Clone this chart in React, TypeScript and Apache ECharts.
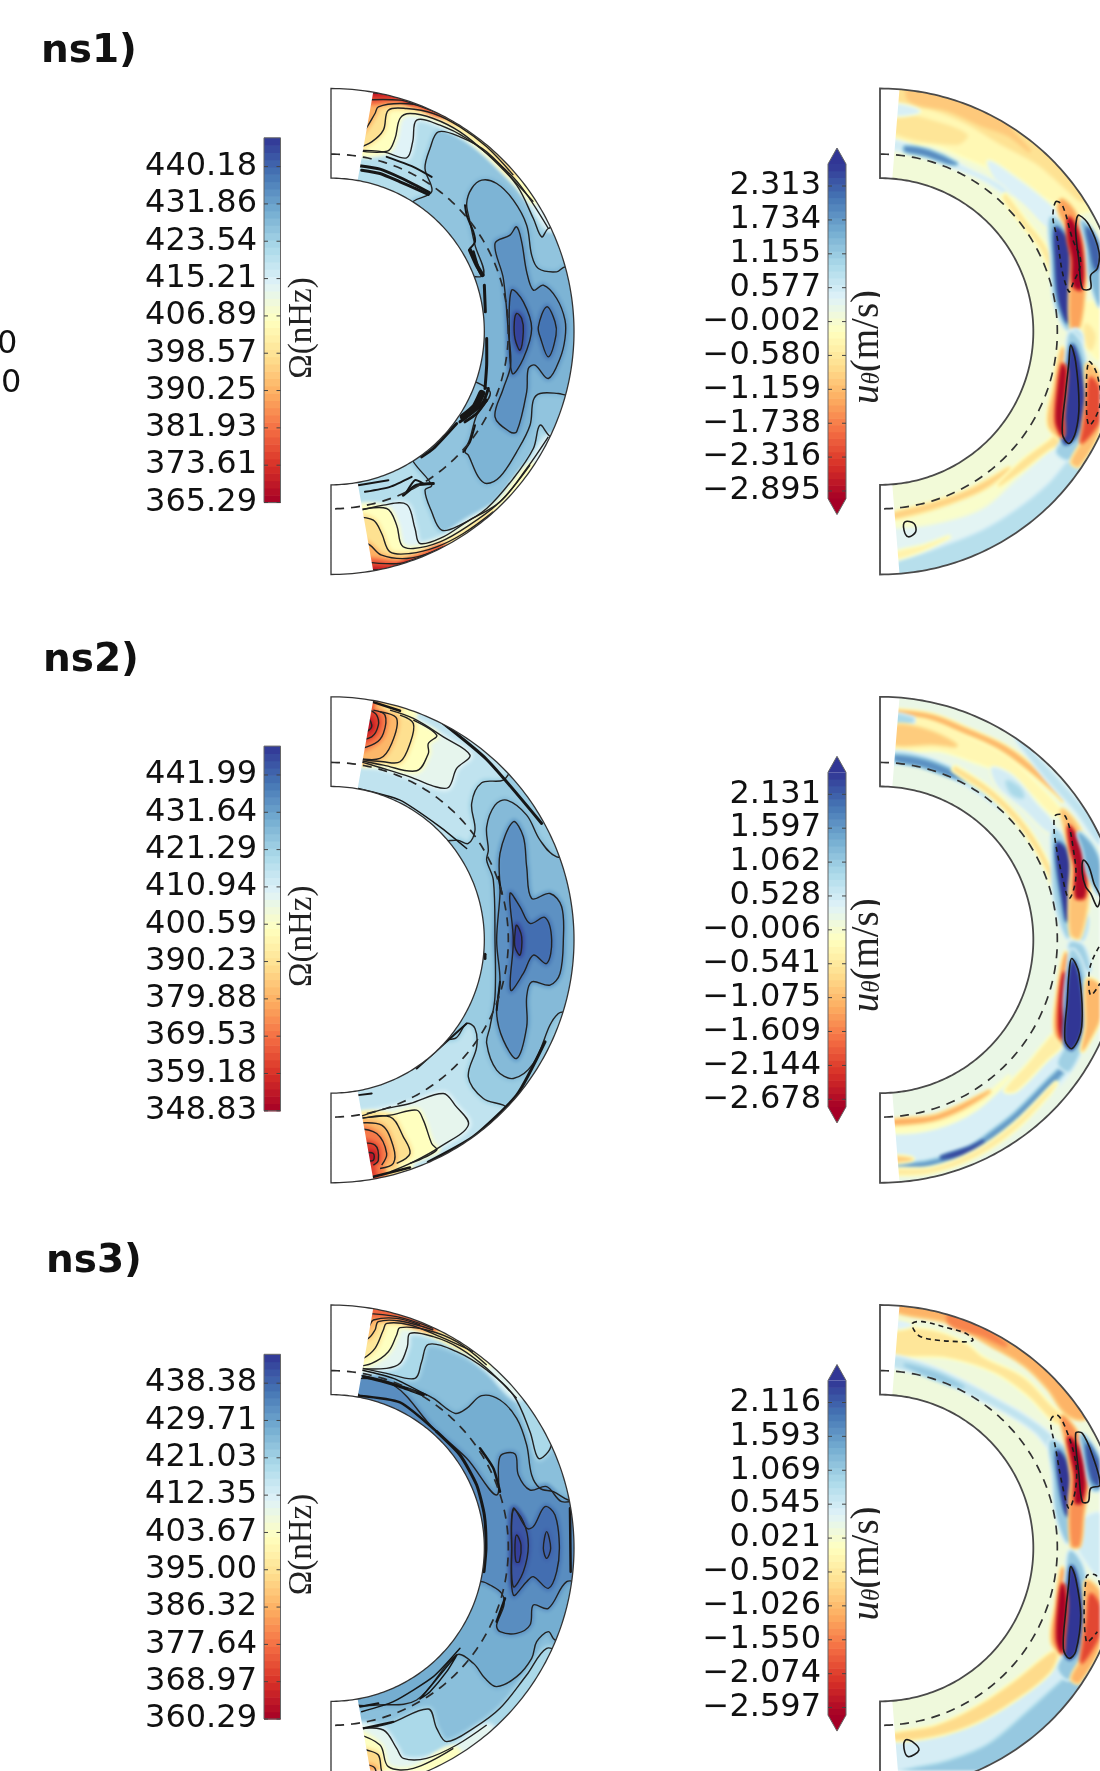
import React, { useEffect, useRef } from "react";
import * as echarts from "echarts";

// Each field is given as nested contour regions.
// A region is [value, surrounding value, closes along the outer rim (1/0), x,y vertices]
// in a reading frame of 900 x 1560 units (axis centre x=93, y=779).
type Region = [number, number, number, number[]];
type Scribble = [number, number[]];
type Line = [number, number, number[]]; // dashed(1/0), closed(1/0), vertices

const titles = ["ns1)", "ns2)", "ns3)"];

const ns1OmegaTicks = [365.29, 373.61, 381.93, 390.25, 398.57, 406.89, 415.21, 423.54, 431.86, 440.18];
const ns2OmegaTicks = [348.83, 359.18, 369.53, 379.88, 390.23, 400.59, 410.94, 421.29, 431.64, 441.99];
const ns3OmegaTicks = [360.29, 368.97, 377.64, 386.32, 395.0, 403.67, 412.35, 421.03, 429.71, 438.38];
const ns1UTicks = [-2.895, -2.316, -1.738, -1.159, -0.58, -0.002, 0.577, 1.155, 1.734, 2.313];
const ns2UTicks = [-2.678, -2.144, -1.609, -1.075, -0.541, -0.006, 0.528, 1.062, 1.597, 2.131];
const ns3UTicks = [-2.597, -2.074, -1.55, -1.026, -0.502, 0.021, 0.545, 1.069, 1.593, 2.116];

const ns1OmegaRegions: Region[] = [
  [426, 420.6, 0, [375,290,390,230,415,180,480,195,560,240,650,340,700,440,725,495,745,470,790,460,865,779,790,1098,752,1095,720,1060,700,1130,640,1220,560,1310,480,1360,425,1375,395,1320,375,1255,395,1240,330,1150,250,779,330,400,395,360]],
  [429, 426, 0, [500,395,515,350,545,325,590,335,640,385,680,460,695,550,715,590,770,600,795,585,850,590,880,779,850,970,800,970,775,965,720,965,700,985,690,1060,650,1140,600,1215,560,1235,535,1215,505,1150,495,1140,510,1100,530,1030,570,960,480,900,440,779,480,620,550,610,525,520,510,450]],
  [434, 429, 0, [585,515,630,490,650,465,665,510,680,600,700,655,730,640,770,680,795,745,795,800,780,860,745,920,705,880,685,890,680,960,650,1080,630,1080,585,1035,610,950,632,880,625,780,610,620]],
  [438.5, 434, 0, [635,655,670,690,695,770,670,860,637,905,628,780]],
  [438.5, 434, 0, [740,705,765,750,768,790,745,855,722,800,715,765]],
  [445, 438.5, 0, [650,725,665,740,670,780,660,835,645,800,643,750]],
  [414, 420.6, 1, [165,235,250,240,320,258,338,210,350,145,420,160,500,200,590,270,660,340,745,470]],
  [406, 414, 1, [165,235,262,238,285,200,300,140,330,125,400,140,480,180,560,245,650,335,700,390]],
  [398, 406, 1, [165,232,215,210,250,175,265,115,320,110,400,125,480,165,560,225,640,310]],
  [390, 398, 1, [165,190,190,180,225,125,235,105,300,95,380,105,470,150]],
  [378, 390, 1, [180,85,300,85,350,100,430,130]],
  [369, 378, 1, [190,62,290,70,340,90]],
  [414, 420.6, 1, [165,1320,250,1300,320,1298,345,1370,360,1415,430,1395,500,1350,600,1290,680,1190,745,1095]],
  [406, 414, 1, [165,1317,260,1310,290,1360,305,1420,340,1430,420,1410,500,1365,600,1290,690,1180]],
  [398, 406, 1, [165,1335,220,1345,245,1385,270,1440,330,1445,410,1425,490,1385,580,1320]],
  [390, 398, 1, [165,1395,210,1420,245,1450,320,1460,400,1440]],
  [378, 390, 1, [190,1470,300,1475,360,1455,430,1425]],
  [369, 378, 1, [195,1495,280,1490,340,1470]],
];
const ns1OmegaScribbles: Scribble[] = [
  [3, [178,282,240,292,300,317,350,342,388,362]],
  [3, [185,295,240,305,300,330,350,352,385,368]],
  [2, [260,255,340,285,395,315]],
  [2, [495,400,500,430,520,480,525,510,510,530]],
  [4, [510,535,530,580,548,610]],
  [3, [520,540,535,590,545,610]],
  [3, [553,640,556,720]],
  [3, [560,800,560,880,555,950]],
  [3, [565,950,550,990,520,1020,480,1050]],
  [7, [545,965,525,1005,490,1035]],
  [3, [560,985,530,1025,495,1050]],
  [2, [525,1060,510,1110,490,1140]],
  [3, [470,1055,400,1130,365,1155]],
  [2, [175,1240,265,1225]],
  [2, [195,1260,270,1245,335,1215]],
  [3, [310,1270,350,1240,400,1235]],
  [2, [320,1260,345,1225,370,1235]],
];

const ns2OmegaRegions: Region[] = [
  [422.7, 415.6, 0, [610,300,545,308,515,370,525,450,505,490,470,480,400,500,360,779,400,1060,465,1075,500,1030,525,1045,530,1100,505,1190,550,1255,610,1275,650,1300,870,779,650,258]],
  [426.7, 422.7, 0, [770,530,720,480,680,405,620,360,585,375,560,440,565,510,560,540,580,600,585,779,585,950,570,1040,560,1090,590,1170,640,1195,700,1150,775,1000,870,1000,870,530]],
  [434.8, 426.7, 0, [600,520,640,425,670,470,680,560,695,655,750,640,785,680,790,780,780,880,750,915,695,905,680,950,680,1040,650,1135,610,1080,590,1000,600,900,590,780,600,640]],
  [441, 434.8, 0, [630,640,660,680,690,730,735,712,755,780,740,850,700,825,670,880,632,930,640,780]],
  [449, 441, 0, [650,735,665,770,660,825,645,800,645,760]],
  [407.5, 415.6, 1, [165,240,240,262,330,290,400,318,445,322,470,265,510,225,430,170,340,115,270,90]],
  [399.4, 407.5, 1, [165,238,250,255,350,272,385,220,385,190,410,165,340,120]],
  [389.3, 399.4, 1, [165,235,250,245,300,245,330,190,340,130,300,105]],
  [381, 389.3, 1, [165,232,240,235,275,190,290,115,240,95]],
  [371, 381, 1, [165,210,225,190,250,160,255,105,220,90]],
  [361, 371, 1, [165,180,215,170,235,135,230,105,210,90]],
  [353, 361, 0, [195,155,215,140,205,115,190,125]],
  [407.5, 415.6, 1, [165,1315,240,1290,330,1270,430,1240,465,1275,505,1335,420,1400,340,1445,270,1475]],
  [399.4, 407.5, 1, [165,1315,270,1305,350,1290,370,1320,395,1390,410,1410,330,1450]],
  [389.3, 399.4, 1, [165,1320,270,1310,310,1370,330,1420,290,1450]],
  [381, 389.3, 1, [165,1330,245,1335,280,1400,280,1450,240,1465]],
  [371, 381, 1, [165,1345,230,1360,260,1420,245,1455]],
  [361, 371, 1, [165,1390,225,1395,235,1440,220,1455]],
  [353, 361, 0, [195,1420,220,1420,220,1440,200,1440]],
];
const ns2OmegaScribbles: Scribble[] = [
  [2.5, [300,92,220,66]],
  [3, [420,122,560,238,725,430]],
  [1.5, [175,325,300,360,420,440,500,505]],
  [2, [175,1245,215,1240]],
  [3, [385,1446,520,1370,650,1245,735,1085]],
  [2.5, [220,1490,330,1462]],
  [2, [350,1165,500,1030]],
  [3, [555,822,555,835]],
  [2, [595,590,605,640]],
  [2, [600,905,590,990]],
];

const ns3OmegaRegions: Region[] = [
  [428, 424.7, 0, [840,635,805,635,760,610,720,600,695,560,680,470,650,390,600,335,545,322,500,360,465,375,400,330,370,315,280,285,185,262,150,270,150,330,300,500,400,780,300,1050,150,1230,170,1250,230,1250,350,1235,470,1100,520,1125,555,1170,590,1195,650,1165,695,1110,710,1060,745,1030,765,1055,830,1060,870,779]],
  [433, 428, 0, [600,505,645,497,655,560,690,605,740,595,785,640,860,640,860,880,800,880,745,960,700,950,690,1010,650,1035,600,1030,590,1010,612,950,605,915,570,890,545,880,430,880,430,690,430,600,300,440,150,290,165,270,280,290,400,420,500,510,590,620]],
  [437.5, 433, 0, [640,660,680,720,700,715,735,655,765,680,778,770,770,850,745,900,700,865,680,880,640,920,635,780]],
  [440.9, 437.5, 0, [640,665,670,700,685,770,670,850,640,895,635,780]],
  [444, 440.9, 0, [650,740,663,770,658,820,648,820,645,770]],
  [439.5, 437.5, 0, [740,730,752,780,740,810,730,780]],
  [419.6, 424.7, 1, [165,235,260,255,345,270,365,220,385,168,470,190,560,245,640,320,690,430,715,510,745,490,760,450]],
  [419.6, 424.7, 1, [165,1325,270,1305,385,1262,410,1320,440,1360,520,1320,600,1260,680,1160,740,1080,790,1100]],
  [410, 419.6, 1, [165,240,260,240,300,225,322,175,330,135,400,145,480,180,560,240,650,330]],
  [403, 410, 1, [165,235,215,225,265,190,290,140,300,118,380,125,470,160,560,230]],
  [396, 403, 1, [165,215,190,210,225,180,250,125,260,105,330,110,420,145,520,190]],
  [390, 396, 1, [165,160,205,150,225,125,235,100,300,98,400,125]],
  [384, 390, 1, [170,120,205,115,220,95,290,90,360,110]],
  [376, 384, 1, [190,75,290,85,400,120]],
  [410, 419.6, 1, [165,1320,250,1325,290,1380,310,1410,380,1410,470,1370,560,1310]],
  [403, 410, 1, [165,1335,240,1370,265,1435,340,1440,460,1380]],
  [393, 403, 1, [165,1375,200,1385,235,1400,245,1449,260,1480]],
  [385, 393, 1, [165,1425,205,1430,225,1440,230,1480]],
];
const ns3OmegaScribbles: Scribble[] = [
  [3, [190,265,250,280,300,295,370,320]],
  [1.5, [185,245,280,270,380,320]],
  [2.5, [175,322,300,342,410,430]],
  [3, [410,430,480,500,530,590,553,680,558,780,552,850]],
  [2.5, [540,480,580,540,600,610]],
  [2.5, [590,1000,615,930]],
  [2.5, [810,660,812,850]],
  [1.5, [360,1232,420,1160,470,1100,440,1150,390,1210,360,1232]],
  [2, [180,1255,235,1245]],
  [1.5, [185,1270,280,1240,400,1165,480,1080]],
  [2, [190,1320,280,1300]],
];

const ns1URegions: Region[] = [
  [-0.3, 0.08, 1, [120,210,250,215,350,255,450,300,560,360,640,400,700,420]],
  [-0.7, -0.3, 1, [125,85,250,110,350,150,450,210,560,270,610,310,660,355,700,385]],
  [-1, -0.7, 1, [180,82,300,115,400,160,480,190,540,235,470,150]],
  [-0.65, -0.3, 0, [135,130,250,150,350,190,320,215,135,180]],
  [0.5, -0.3, 0, [130,98,210,118,130,128]],
  [0.45, -0.3, 0, [420,270,500,320,590,390,625,430,605,470,530,400,440,320]],
  [0.55, 0.08, 0, [120,205,200,228,300,262,350,290,450,340,480,370,400,320,300,280,200,245,120,225]],
  [1.9, 0.55, 0, [170,226,240,238,320,275,300,274,230,250,170,237]],
  [-0.6, 0.08, 0, [470,370,530,450,590,530,630,640,620,640,580,535,520,455,465,380]],
  [0.35, 0.08, 1, [120,1345,300,1320,450,1270,560,1180,640,1110,700,1130]],
  [0.85, 0.35, 1, [120,1490,250,1440,400,1380,500,1320,600,1240,660,1170,700,1130]],
  [-0.4, 0.5, 0, [130,1445,230,1420,300,1395,220,1435,130,1462]],
  [-0.05, 0.2, 0, [125,1338,260,1320,400,1265,530,1165,610,1100,570,1130,420,1290,280,1345,125,1362]],
  [-0.9, -0.05, 0, [125,1328,240,1298,340,1265,420,1225,480,1190,420,1240,350,1275,250,1310,125,1340]],
  [-0.7, 0.1, 0, [520,1170,600,1110,625,1090,640,1110,600,1130,510,1200,450,1240]],
  [-0.25, 0.1, 0, [700,700,753,700,753,860,720,830,700,790,690,760]],
  [-0.6, -0.25, 0, [712,760,735,790,725,830,712,800]],
  [1.2, 0.2, 0, [605,440,645,470,672,600,665,720,655,770,620,690,610,560]],
  [2.65, 1.2, 0, [620,470,650,500,668,600,660,700,655,750,630,680,620,560]],
  [-1.4, -0.4, 0, [640,385,680,430,705,530,705,640,690,760,670,770,665,680,670,560,655,470,630,410]],
  [-3, -1.4, 0, [660,440,685,480,700,580,695,650,675,640,672,560,660,500]],
  [1.4, 0.2, 0, [700,450,740,500,753,580,753,700,725,620,715,520]],
  [2.3, 1.4, 0, [715,470,745,520,753,580,740,590,725,530]],
  [0.8, 0.2, 0, [665,785,695,820,695,790,680,775]],
  [-1.1, 0.1, 0, [640,830,655,900,650,1100,600,1060,615,950]],
  [1.1, 0.2, 0, [665,785,695,820,715,960,700,1090,660,1160,625,1140,650,1090,650,940,655,850]],
  [2.65, 1.1, 0, [670,820,690,870,705,990,680,1090,650,1115,640,1080,650,960,660,870]],
  [-2.9, -1.1, 0, [640,880,650,900,640,1030,640,1090,622,1050,628,950]],
  [-1.1, -0.2, 0, [715,880,753,920,753,1060,690,1180,670,1170,700,1110,705,1060,715,980]],
  [-2.2, -1.1, 0, [725,920,753,960,753,1040,700,1110,705,1070,715,1000]],
];
const ns1ULines: Line[] = [
  [0, 1, [683,440,690,430,720,460,750,540,745,590,725,610,725,650,700,650,690,570,680,480]],
  [1, 1, [620,390,640,400,670,500,695,570,670,640,660,660,640,600,625,500,612,440]],
  [0, 1, [665,820,680,870,690,1000,680,1080,660,1115,640,1085,650,960,660,870]],
  [1, 1, [720,870,745,910,753,1000,720,1060,712,960]],
  [0, 1, [168,1350,195,1355,200,1380,178,1395,165,1375]],
];

const ns2URegions: Region[] = [
  [-0.3, 0.2, 0, [125,125,250,125,350,170,470,230,570,320,640,400,610,400,550,340,470,280,380,245,270,210,125,205]],
  [-1.1, 0.2, 0, [130,90,250,105,350,145,470,200,560,270,640,360,620,340,540,270,450,205,340,155,240,115,130,97]],
  [0.9, 0.2, 0, [130,105,190,115,190,125,130,130]],
  [0.7, 0.2, 0, [500,170,600,270,680,360,753,440,753,490,680,390,590,290]],
  [-0.9, -0.3, 0, [130,140,230,150,320,195,250,190,130,190]],
  [0.5, -0.2, 0, [430,265,490,290,560,370,620,440,600,455,530,390,450,320]],
  [0.9, 0.5, 0, [475,305,510,325,520,350,490,340]],
  [0.8, 0.2, 0, [120,220,200,225,300,262,400,320,480,380,530,440,470,395,390,335,290,280,190,245,120,245]],
  [1.7, 0.8, 0, [140,228,230,243,310,275,350,300,300,285,220,257,140,240]],
  [-0.7, 0.2, 0, [320,262,430,335,530,440,600,560,640,670,630,670,590,560,520,445,425,345,315,270]],
  [0.45, 0.2, 0, [125,1350,300,1320,420,1260,530,1170,640,1110,660,1170,600,1240,500,1330,380,1400,250,1440,125,1460]],
  [-0.45, 0.3, 0, [590,1090,620,1060,640,1090,590,1140,500,1230,470,1230,540,1150]],
  [1.6, 0.45, 0, [130,1460,240,1445,350,1410,430,1355,500,1300,620,1180,680,1130,630,1190,520,1310,430,1375,330,1425,240,1455,130,1472]],
  [2.4, 1.6, 0, [280,1432,360,1405,400,1385,340,1420]],
  [-0.5, 0.2, 0, [130,1470,250,1465,380,1415,500,1330,620,1210,600,1240,500,1345,385,1425,250,1475,130,1482]],
  [-0.2, 0.2, 0, [125,1335,260,1325,380,1270,480,1190,380,1285,260,1340,125,1355]],
  [-1.2, -0.2, 0, [125,1322,250,1310,340,1275,420,1235,340,1285,250,1320,125,1332]],
  [-0.9, 0.3, 0, [125,1430,190,1437,125,1445]],
  [-0.4, 0.2, 0, [700,640,715,690,700,760,690,780,680,720]],
  [0.7, -0.2, 0, [700,680,720,720,705,780,685,770,695,720]],
  [1, 0.2, 0, [615,450,650,490,675,600,665,720,655,770,620,660,612,530]],
  [2.5, 1, 0, [625,490,650,510,670,600,655,720,640,650,625,550]],
  [-1, -0.3, 0, [640,390,690,450,715,560,715,650,690,770,668,760,665,640,670,550,650,450]],
  [-2.7, -1, 0, [660,440,690,490,708,590,705,650,682,650,680,560,665,500]],
  [1.4, 0.2, 0, [690,460,730,500,753,560,753,640,720,580,705,510]],
  [1, 0.2, 0, [665,790,700,800,720,870,700,850,670,830]],
  [-1.3, 0.2, 0, [650,820,660,880,650,1090,620,1060,625,950]],
  [-2.7, -1.3, 0, [645,880,650,950,640,1070,632,1040,635,950]],
  [1, 0.2, 0, [670,810,700,860,715,980,705,1070,660,1170,630,1150,650,1100,650,960,660,860]],
  [2.6, 1, 0, [670,845,690,900,698,1040,670,1105,650,1090,655,970]],
  [-1.1, 0.2, 0, [715,900,753,920,753,1010,715,1090,700,1110,712,1040]],
];
const ns2ULines: Line[] = [
  [0, 1, [703,540,720,560,735,610,753,650,745,680,725,640,710,620,700,580]],
  [1, 1, [620,405,650,410,675,520,680,600,660,655,640,590,620,490,615,440]],
  [0, 1, [668,835,690,880,698,1040,670,1105,648,1080,655,960,660,880]],
  [1, 0, [750,800,730,840,720,880,725,945,753,910]],
];

const ns3URegions: Region[] = [
  [-0.55, 0.13, 0, [125,130,250,130,350,170,400,210,520,270,600,350,650,400,620,400,540,320,440,250,300,205,125,190]],
  [-1.1, -0.55, 1, [130,62,300,100,420,165,530,230,600,300,650,370,700,390]],
  [-1.5, -1.1, 1, [300,100,400,140,470,170,400,105]],
  [0.4, -0.55, 0, [130,95,190,110,130,120]],
  [0.7, 0.13, 0, [125,205,240,235,350,285,450,340,520,380,610,450,620,500,560,430,470,370,370,320,260,265,125,230]],
  [1.1, 0.7, 0, [170,230,260,255,340,295,300,285,220,255]],
  [0.5, 1.1, 1, [120,1360,300,1340,450,1270,560,1190,640,1130,700,1130]],
  [1.1, 0.5, 1, [120,1470,300,1420,420,1370,540,1270,640,1180,700,1130]],
  [-0.7, 0.13, 0, [125,1340,260,1315,380,1260,500,1180,600,1100,625,1090,600,1150,500,1230,380,1300,260,1340,125,1355]],
  [0.55, 0.13, 0, [700,700,753,680,753,860,700,800,690,770]],
  [1.1, 0.13, 0, [605,460,650,490,670,600,665,720,655,760,625,680,615,560]],
  [2.5, 1.1, 0, [625,490,650,520,665,600,655,680,635,600]],
  [-1.4, -0.4, 0, [640,385,690,450,715,560,700,680,690,770,670,770,665,640,670,570,655,470]],
  [-2.8, -1.4, 0, [660,450,690,490,705,580,695,640,682,640,680,560,668,500]],
  [1.4, 0.13, 0, [700,440,753,520,753,600,730,600,712,520]],
  [2.2, 1.4, 0, [715,470,753,540,753,590,730,570]],
  [-1.2, 0.1, 0, [640,840,655,900,650,1100,610,1060,622,950]],
  [1.1, 0.13, 0, [665,790,700,840,715,960,700,1090,660,1170,630,1140,650,1090,650,940,655,850]],
  [2.55, 1.1, 0, [668,835,685,880,698,990,680,1090,660,1110,645,1080,652,970,660,880]],
  [-2.7, -1.2, 0, [640,890,650,940,642,1050,638,1090,625,1050,630,950]],
  [-1.1, -0.2, 0, [712,880,753,920,753,1060,690,1180,670,1170,700,1110,705,1060,712,980]],
  [-2, -1.1, 0, [725,920,753,960,753,1030,700,1120,705,1070,715,1000]],
];
const ns3ULines: Line[] = [
  [1, 1, [190,105,220,100,300,120,350,135,372,155,355,160,330,160,260,155,215,145,195,125]],
  [0, 1, [680,435,700,435,730,500,753,590,725,600,718,640,700,640,690,560]],
  [1, 1, [605,395,625,380,650,420,680,520,680,600,660,660,640,590,620,480]],
  [0, 1, [665,835,680,870,695,980,680,1090,660,1110,643,1080,650,970,660,880]],
  [1, 0, [753,890,740,860,712,865,712,1060,745,1030]],
  [0, 1, [170,1355,190,1360,210,1385,178,1405,165,1380]],
];

const RDYLBU = ["#a50026","#d73027","#f46d43","#fdae61","#fee090","#ffffbf","#e0f3f8","#abd9e9","#74add1","#4575b4","#313695"];
const hex = (c: string) => [1, 3, 5].map((i) => parseInt(c.slice(i, i + 2), 16));
function cmap(t: number) {
  const n = Math.max(0, Math.min(0.9999, t)) * 10;
  const i = Math.floor(n);
  const a = hex(RDYLBU[i]);
  const b = hex(RDYLBU[i + 1]);
  const m = a.map((v, k) => Math.round(v + (b[k] - v) * (n - i)));
  return `rgb(${m[0]},${m[1]},${m[2]})`;
}

const AX = 93, AY = 779, R_OUT = 729, R_IN = 460, R_DASH = 532, R_HIDE = 770;
const LABEL_LIFT = 2.7;
const pairs = (f: number[]) => {
  const o: number[][] = [];
  for (let i = 0; i + 1 < f.length; i += 2) o.push([f[i], f[i + 1]]);
  return o;
};
const polar = (r: number, deg: number) => [AX + r * Math.sin((deg * Math.PI) / 180), AY - r * Math.cos((deg * Math.PI) / 180)];
const angleOf = (p: number[]) => (Math.atan2(p[0] - AX, AY - p[1]) * 180) / Math.PI;
function arc(r: number, a: number, b: number, step = 3) {
  const out: number[][] = [];
  const n = Math.max(1, Math.ceil(Math.abs(b - a) / step));
  for (let i = 0; i <= n; i++) out.push(polar(r, a + ((b - a) * i) / n));
  return out;
}
const sector = (r1: number, r2: number, a: number, b: number) => [...arc(r2, a, b), ...arc(r1, b, a)];

type PanelSpec = {
  grid: number; base: number; min: number; max: number; cap: number;
  regions: Region[]; scribbles: Scribble[]; lines: Line[];
  contourRegions: boolean; soft: number; outline: [string, number]; dashColor: string;
};
type Op = (c: (q: number[]) => number[]) => any;
const polyOp = (pts: number[][], style: any, smooth = 0): Op => (c) => ({
  type: "polygon", silent: true, shape: { points: pts.map(c), smooth }, style,
});
const openOp = (pts: number[][], style: any, smooth = 0): Op => (c) => ({
  type: "polyline", silent: true, shape: { points: pts.map(c), smooth }, style: { fill: "none", ...style },
});
const opsSeries = (grid: number, ops: Op[]) => ({
  type: "custom", xAxisIndex: grid, yAxisIndex: grid, clip: false, silent: true,
  data: ops.map((_, i) => [AX, AY, i]),
  renderItem: (_: any, api: any) => ops[api.value(2)]((q: number[]) => api.coord(q)),
});

function fieldSeries(p: PanelSpec) {
  const color = (v: number) => cmap((v - p.min) / (p.max - p.min));
  const ops: Op[] = [polyOp(sector(R_IN - 30, R_OUT + 30, 3, 177), { fill: color(p.base) })];
  for (const [v, from, rim, flat] of p.regions) {
    const pts = pairs(flat);
    const full = rim ? [...pts, ...arc(R_HIDE, angleOf(pts[pts.length - 1]), angleOf(pts[0]))] : pts;
    const mix = (k: number) => color(from + (v - from) * k);
    ops.push(polyOp(full, { fill: "none", stroke: mix(0.35), lineWidth: p.soft, lineJoin: "round" }, 0.35));
    ops.push(polyOp(full, { fill: "none", stroke: mix(0.7), lineWidth: p.soft / 2, lineJoin: "round" }, 0.35));
    ops.push(polyOp(full, { fill: color(v) }, 0.35));
  }
  return opsSeries(p.grid, ops);
}

function overlaySeries(p: PanelSpec) {
  const ops: Op[] = [];
  if (p.contourRegions) {
    for (const [, , rim, flat] of p.regions) {
      const pts = pairs(flat);
      const st = { stroke: "#222222", lineWidth: 1.4 };
      ops.push(rim ? openOp(pts, st, 0.35) : polyOp(pts, { fill: "none", ...st }, 0.35));
    }
  }
  for (const [dash, closed, flat] of p.lines) {
    const st: any = { stroke: "#1c1c1c", lineWidth: 1.6, lineDash: dash ? [5, 4] : undefined };
    ops.push(closed ? polyOp(pairs(flat), { fill: "none", ...st }, 0.35) : openOp(pairs(flat), st, 0.35));
  }
  for (const [w, flat] of p.scribbles) {
    ops.push(openOp(pairs(flat), { stroke: "#161616", lineWidth: w, lineCap: "round" }, 0.2));
  }
  const white = { fill: "#ffffff" };
  ops.push(polyOp(sector(R_OUT, 860, 0, 180), white));
  ops.push(polyOp(sector(0, R_IN, 0, 180), white));
  ops.push(polyOp(sector(R_IN - 2, R_OUT + 2, 0, p.cap), white));
  ops.push(polyOp(sector(R_IN - 2, R_OUT + 2, 180 - p.cap, 180), white));
  ops.push(openOp(arc(R_DASH, 0, 180, 1), { stroke: p.dashColor, lineWidth: 1.7, lineDash: [9, 7] }));
  ops.push(polyOp([...arc(R_OUT, 0, 180, 1), ...arc(R_IN, 180, 0, 1)], { fill: "none", stroke: p.outline[0], lineWidth: p.outline[1] }));
  return opsSeries(p.grid, ops);
}

function barSeries(grid: number, vmin: number, vmax: number, ticks: number[], tips: boolean) {
  const steps = 50;
  const data: number[][] = [];
  for (let i = 0; i < steps; i++) data.push([0, vmin + ((vmax - vmin) * i) / steps, vmin + ((vmax - vmin) * (i + 1)) / steps, i]);
  return {
    type: "custom", xAxisIndex: grid, yAxisIndex: grid, clip: false, silent: true,
    data: [...data, [0, vmin, vmax, -1]],
    renderItem: (_: any, api: any) => {
      const i = api.value(3);
      const ta = api.coord([0, api.value(2)]);
      const tb = api.coord([1, api.value(1)]);
      const a = [ta[0], ta[1] + LABEL_LIFT];
      const b = [tb[0], tb[1] + LABEL_LIFT];
      if (i < 0) {
        const pts = tips
          ? [a, [(a[0] + b[0]) / 2, a[1] - 16], [b[0], a[1]], b, [(a[0] + b[0]) / 2, b[1] + 16], [a[0], b[1]]]
          : [a, [b[0], a[1]], b, [a[0], b[1]]];
        const kids: any[] = [];
        if (tips) {
          kids.push({ type: "polygon", shape: { points: [a, [(a[0] + b[0]) / 2, a[1] - 16], [b[0], a[1]]] }, style: { fill: cmap(1) } });
          kids.push({ type: "polygon", shape: { points: [[a[0], b[1]], [(a[0] + b[0]) / 2, b[1] + 16], b] }, style: { fill: cmap(0) } });
        }
        kids.push({ type: "polygon", shape: { points: pts }, style: { fill: "none", stroke: "#666", lineWidth: 1 } });
        for (const t of ticks) {
          const y = api.coord([0, t])[1] + LABEL_LIFT;
          kids.push({ type: "line", shape: { x1: a[0], y1: y, x2: a[0] + 4, y2: y }, style: { stroke: "#444", lineWidth: 1 } });
          kids.push({ type: "line", shape: { x1: b[0] - 4, y1: y, x2: b[0], y2: y }, style: { stroke: "#444", lineWidth: 1 } });
        }
        return { type: "group", children: kids };
      }
      return {
        type: "rect",
        shape: { x: a[0], y: a[1], width: b[0] - a[0], height: b[1] - a[1] + 0.6 },
        style: { fill: cmap((i + 0.5) / steps) },
      };
    },
  };
}

const rowsCy = [331.5, 939.8, 1548];
const titleX = [41, 43, 46];
const titleY = [68, 677, 1278];

export default function App() {
  const fieldRef = useRef<HTMLDivElement>(null);
  const ref = useRef<HTMLDivElement>(null);
  useEffect(() => {
    document.body.style.margin = "0";
    const fieldChart = echarts.init(fieldRef.current!, undefined, { renderer: "svg", width: 1100, height: 1771 });
    const chart = echarts.init(ref.current!, undefined, { renderer: "svg", width: 1100, height: 1771 });
    const grids: any[] = [], xAxes: any[] = [], yAxes: any[] = [], series: any[] = [], fields: any[] = [], graphic: any[] = [];

    const addFrame = (cx: number, cy: number) => {
      grids.push({ left: cx - 31, top: cy - 259.67, width: 300, height: 520, outerBoundsMode: "none" });
      xAxes.push({ type: "value", gridIndex: grids.length - 1, min: 0, max: 900, show: false });
      yAxes.push({ type: "value", gridIndex: grids.length - 1, min: 0, max: 1560, inverse: true, show: false });
      return grids.length - 1;
    };
    const addBar = (left: number, width: number, top: number, height: number, vmin: number, vmax: number, ticks: number[], dec: number, tips: boolean) => {
      grids.push({ left, top: top - LABEL_LIFT, width, height, outerBoundsMode: "none" });
      const g = grids.length - 1;
      xAxes.push({ type: "value", gridIndex: g, min: 0, max: 1, show: false });
      yAxes.push({
        type: "value", gridIndex: g, min: vmin, max: vmax, position: "left",
        axisLine: { show: false }, splitLine: { show: false }, axisTick: { show: false },
        axisLabel: {
          customValues: ticks, margin: 7, fontFamily: "DejaVu Sans", fontSize: 32, color: "#111",
          formatter: (v: number) => v.toFixed(dec).replace("-", "\u2212"),
        },
      });
      series.push(barSeries(g, vmin, vmax, ticks, tips));
    };

    const omega = [
      { ticks: ns1OmegaTicks, top: 446.6, regions: ns1OmegaRegions, scr: ns1OmegaScribbles, base: 420.6 },
      { ticks: ns2OmegaTicks, top: 450.0, regions: ns2OmegaRegions, scr: ns2OmegaScribbles, base: 415.6 },
      { ticks: ns3OmegaTicks, top: 445.1, regions: ns3OmegaRegions, scr: ns3OmegaScribbles, base: 424.7 },
    ];
    const vel = [
      { ticks: ns1UTicks, top: 2.689, bottom: -3.025, regions: ns1URegions, lines: ns1ULines, base: 0.08 },
      { ticks: ns2UTicks, top: 2.478, bottom: -2.798, regions: ns2URegions, lines: ns2ULines, base: 0.2 },
      { ticks: ns3UTicks, top: 2.456, bottom: -2.714, regions: ns3URegions, lines: ns3ULines, base: 0.13 },
    ];

    rowsCy.forEach((cy, row) => {
      const off = cy - rowsCy[0];
      const o = omega[row];
      const v = vel[row];
      addBar(264, 16.5, 137.8 + off, 364.7, o.ticks[0], o.top, o.ticks, 2, false);
      addBar(828, 18, 164 + off, 334.6, v.bottom, v.top, v.ticks, 3, true);
      const leftSpec: PanelSpec = {
        grid: addFrame(331, cy), base: o.base, min: o.ticks[0], max: o.top, cap: 10, regions: o.regions,
        scribbles: o.scr, lines: [], contourRegions: true, soft: 8, outline: ["#333333", 1.3], dashColor: "#2a2a2a",
      };
      const rightSpec: PanelSpec = {
        grid: addFrame(880, cy), base: v.base, min: v.bottom, max: v.top, cap: 4.6, regions: v.regions,
        scribbles: [], lines: v.lines, contourRegions: false, soft: 6, outline: ["#4a4a4a", 1.8], dashColor: "#333333",
      };
      fields.push(fieldSeries(leftSpec), fieldSeries(rightSpec));
      series.push(overlaySeries(leftSpec), overlaySeries(rightSpec));
      graphic.push({
        type: "text", x: titleX[row], y: titleY[row],
        style: { text: titles[row], fontFamily: "DejaVu Sans", fontWeight: "bold", fontSize: 39, fill: "#111", verticalAlign: "bottom" },
      });
      graphic.push({
        type: "text", x: 300, y: 328 + off, rotation: Math.PI / 2,
        style: { text: "\u03a9(nHz)", fontFamily: "Liberation Serif", fontSize: 33, fill: "#222", align: "center", verticalAlign: "middle" },
      });
      graphic.push({
        type: "text", x: 864, y: 347 + off, rotation: Math.PI / 2,
        style: {
          text: "{i|u}{s|\u03b8}{r|(m/s)}", fontFamily: "Liberation Serif", fontSize: 39, fill: "#222", align: "center", verticalAlign: "middle",
          rich: {
            i: { fontFamily: "Liberation Serif", fontStyle: "italic", fontSize: 39, fill: "#222" },
            s: { fontFamily: "Liberation Serif", fontStyle: "italic", fontSize: 25, fill: "#222", padding: [12, 0, 0, 0] },
            r: { fontFamily: "Liberation Serif", fontSize: 39, fill: "#222" },
          },
        },
      });
    });
    graphic.push({ type: "text", x: -3, y: 342, style: { text: "0", fontFamily: "DejaVu Sans", fontSize: 32, fill: "#111", verticalAlign: "middle" } });
    graphic.push({ type: "text", x: 1, y: 381, style: { text: "0", fontFamily: "DejaVu Sans", fontSize: 32, fill: "#111", verticalAlign: "middle" } });

    fieldChart.setOption({
      animation: false, backgroundColor: "#ffffff", grid: grids,
      xAxis: xAxes.map((a) => ({ ...a, show: false })), yAxis: yAxes.map((a) => ({ ...a, show: false })), series: fields,
    });
    chart.setOption({ animation: false, backgroundColor: "transparent", grid: grids, xAxis: xAxes, yAxis: yAxes, series, graphic });
    return () => {
      chart.dispose();
      fieldChart.dispose();
    };
  }, []);
  const layer = { position: "absolute", left: 0, top: 0, width: 1100, height: 1771, overflow: "hidden" } as const;
  return (
    <>
      <div ref={fieldRef} style={{ ...layer, filter: "blur(1.5px)" }} />
      <div ref={ref} style={{ ...layer, filter: "blur(0.5px)" }} />
    </>
  );
}
